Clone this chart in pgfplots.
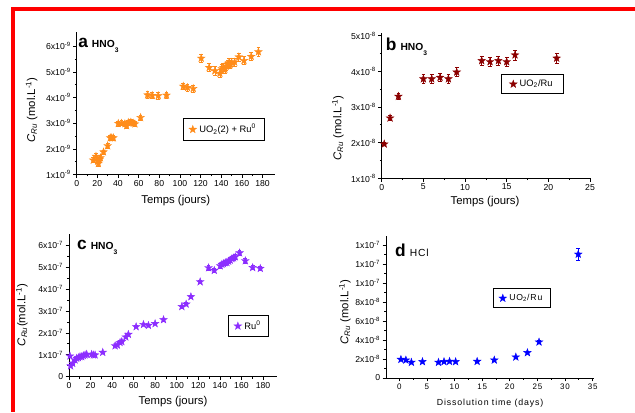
\documentclass[border=0pt]{standalone}
\usepackage{fontspec}
\setmainfont{Liberation Sans}
\usepackage{pgfplots}
\pgfplotsset{compat=1.18}
\definecolor{corange}{RGB}{255,140,26}
\definecolor{cmaroon}{RGB}{139,0,0}
\definecolor{cviolet}{RGB}{140,45,255}
\definecolor{cblue}{RGB}{0,0,255}
\pgfdeclareplotmark{fstar}{%
  \pgfpathmoveto{\pgfpointpolar{90}{\pgfplotmarksize}}%
  \pgfpathlineto{\pgfpointpolar{126}{0.4\pgfplotmarksize}}%
  \pgfpathlineto{\pgfpointpolar{162}{\pgfplotmarksize}}%
  \pgfpathlineto{\pgfpointpolar{198}{0.4\pgfplotmarksize}}%
  \pgfpathlineto{\pgfpointpolar{234}{\pgfplotmarksize}}%
  \pgfpathlineto{\pgfpointpolar{270}{0.4\pgfplotmarksize}}%
  \pgfpathlineto{\pgfpointpolar{306}{\pgfplotmarksize}}%
  \pgfpathlineto{\pgfpointpolar{342}{0.4\pgfplotmarksize}}%
  \pgfpathlineto{\pgfpointpolar{18}{\pgfplotmarksize}}%
  \pgfpathlineto{\pgfpointpolar{54}{0.4\pgfplotmarksize}}%
  \pgfpathclose
  \pgfusepathqfillstroke}
\newcommand{\tl}[2]{#1x10\textsuperscript{-#2}}
\newcommand{\ttl}[2]{{\bfseries\fontsize{13}{13}\selectfont #1}\hspace{3pt}{\bfseries\fontsize{7.7}{8}\selectfont #2}}
\pgfplotsset{panel/.style={
  scale only axis, axis x line*=bottom, axis y line*=left, tick align=outside,
  axis line style={line width=0.6pt, black, -},
  major tick length=2.6pt, minor tick length=1.4pt,
  every tick/.style={black, line width=0.5pt},
  minor x tick num=1, minor y tick num=1,
  tick label style={font=\fontsize{6.5}{7}\selectfont},
  xticklabel style={inner sep=1.5pt},
  yticklabel style={inner sep=1.5pt},
  /pgf/number format/assume math mode=true,
  label style={font=\fontsize{8.5}{9}\selectfont},
  clip=false,
  legend cell align=left,
  legend style={draw=black, line width=0.6pt, fill=white, font=\fontsize{7}{8}\selectfont, inner xsep=4pt, inner ysep=2pt, anchor=north west},
  anchor=south west,
}}
\pgfplotsset{ser/.style={only marks, mark=fstar, mark size=3pt, color=#1, mark options={fill=#1, line width=0.3pt, line join=miter},
  error bars/y dir=both, error bars/y explicit,
  error bars/error bar style={line width=0.5pt, #1},
  error bars/error mark options={rotate=90, mark size=1.4pt, line width=0.5pt, #1}}}

\pgfplotstableread{
x y e
16.1 1.56 0.10
18.7 1.71 0.10
20.3 1.52 0.10
21.0 1.43 0.10
22.0 1.58 0.10
23.0 1.65 0.10
26.0 1.88 0.08
30.0 2.12 0.08
32.5 2.43 0.08
34.0 2.43 0.08
35.5 2.43 0.08
40.3 2.99 0.10
43.5 3.00 0.10
46.7 2.98 0.10
48.4 2.90 0.10
50.0 3.03 0.10
52.5 3.04 0.10
54.8 3.00 0.10
56.4 2.97 0.10
61.9 3.22 0.10
68.7 4.10 0.13
73.2 4.08 0.13
79.0 4.07 0.13
87.0 4.09 0.13
103.2 4.44 0.13
107.4 4.39 0.13
112.9 4.35 0.13
120.6 5.53 0.16
128.3 5.17 0.16
133.8 5.04 0.16
138.7 4.94 0.16
140.5 5.12 0.16
142.0 5.17 0.16
143.5 5.10 0.16
145.0 5.22 0.16
146.5 5.30 0.16
147.5 5.35 0.16
148.5 5.28 0.16
150.0 5.37 0.16
153.0 5.38 0.16
157.0 5.58 0.16
162.0 5.44 0.16
169.0 5.60 0.16
176.0 5.78 0.16
}\dataA
\pgfplotstableread{
x y e
0.3 1.96 0.04
1.0 2.69 0.07
2.0 3.30 0.09
5.0 3.79 0.12
6.0 3.79 0.12
7.0 3.83 0.12
8.0 3.79 0.12
9.0 3.98 0.13
12.0 4.30 0.13
13.0 4.27 0.13
14.0 4.30 0.13
15.0 4.27 0.13
16.0 4.46 0.14
21.0 4.37 0.14
}\dataB
\pgfplotstableread{
x y e
0.9 0.94 0.03
1.5 0.49 0.03
3.4 0.61 0.03
5.6 0.76 0.03
7.1 0.84 0.03
8.7 0.87 0.03
10.2 0.91 0.03
11.8 0.91 0.03
13.3 0.96 0.03
14.9 0.99 0.03
16.4 1.02 0.03
21.0 1.02 0.03
22.6 0.99 0.03
24.2 0.99 0.03
31.3 1.11 0.03
42.8 1.41 0.04
44.9 1.44 0.04
47.4 1.56 0.04
49.0 1.60 0.04
52.7 1.81 0.05
55.1 1.93 0.05
62.3 2.28 0.05
69.1 2.38 0.05
73.7 2.34 0.05
79.9 2.42 0.05
87.7 2.60 0.06
104.7 3.20 0.07
108.7 3.31 0.07
113.1 3.65 0.08
121.7 4.33 0.09
129.5 4.97 0.10
134.8 4.85 0.10
140.3 5.06 0.10
141.9 5.13 0.10
143.4 5.16 0.10
145.0 5.20 0.10
146.5 5.21 0.10
148.1 5.27 0.10
149.6 5.32 0.10
151.2 5.39 0.10
152.7 5.42 0.10
154.3 5.47 0.10
158.3 5.65 0.10
163.6 5.29 0.10
170.4 4.98 0.10
177.5 4.94 0.10
}\dataC
\pgfplotstableread{
x y e
0.3 1.96 0.08
1.2 1.89 0.08
2.2 1.65 0.08
4.2 1.72 0.08
7.1 1.65 0.08
8.1 1.72 0.08
9.1 1.75 0.08
10.2 1.72 0.08
14.1 1.75 0.08
17.2 1.89 0.08
21.1 2.21 0.09
23.2 2.67 0.10
25.3 3.79 0.18
32.4 13.05 0.67
}\dataD

\begin{document}
\begin{tikzpicture}
\path[use as bounding box] (0,0) rectangle (476.25pt,309pt);
\fill[red] (8.25pt,301pt) rectangle (476.25pt,304pt);
\fill[red] (8.25pt,0pt) rectangle (11.25pt,304pt);

% panel a
\begin{axis}[panel, at={(57.5pt,178.1pt)}, width=148.7pt, height=106.65pt,
  xmin=0, xmax=192, ymin=1, ymax=6.54,
  xtick={0,20,...,180}, ytick={1,2,3,4,5,6},
  yticklabels={\tl{1}{9},\tl{2}{9},\tl{3}{9},\tl{4}{9},\tl{5}{9},\tl{6}{9}},
  xlabel={Temps (jours)},
  ylabel={\textit{C}\textsubscript{\textit{Ru}} (mol.L\textsuperscript{-1})},
  xlabel style={at={(axis description cs:0.5,-0.186)}, anchor=center},
  ylabel style={at={(axis description cs:-0.227,0.454)}, anchor=center},
  legend style={at={(axis description cs:0.5376,0.395)}},
]
\addplot[ser=corange] table[x=x,y=y,y error=e] {\dataA};
\addlegendentry{UO\textsubscript{2}(2) + Ru\textsuperscript{0}}
\node[anchor=base west, inner sep=0pt] at (axis description cs:0.007,0.89) {\ttl{a}{HNO\raisebox{-3.5pt}{\fontsize{5}{5}\selectfont 3}}};
\end{axis}

% panel b
\begin{axis}[panel, at={(286.3pt,175.3pt)}, width=156.2pt, height=108.75pt,
  xmin=0, xmax=25, ymin=1, ymax=5.07,
  xtick={0,5,...,25}, ytick={1,2,3,4,5},
  yticklabels={\tl{1}{8},\tl{2}{8},\tl{3}{8},\tl{4}{8},\tl{5}{8}},
  xlabel={Temps (jours)},
  ylabel={\textit{C}\textsubscript{\textit{Ru}} (mol.L\textsuperscript{-1})},
  xlabel style={at={(axis description cs:0.496,-0.163)}, anchor=center},
  ylabel style={at={(axis description cs:-0.21,0.347)}, anchor=center},
  legend style={at={(axis description cs:0.573,0.719)}, inner xsep=6pt},
]
\addplot[ser=cmaroon] table[x=x,y=y,y error=e] {\dataB};
\addlegendentry{UO\textsubscript{2}/Ru}
\node[anchor=base west, inner sep=0pt] at (axis description cs:0.019,0.878) {\ttl{b}{HNO\raisebox{-3.5pt}{\fontsize{5}{5}\selectfont 3}}};
\end{axis}

% panel c
\begin{axis}[panel, at={(51.75pt,26.5pt)}, width=156pt, height=106.8pt,
  xmin=0, xmax=193, ymin=0, ymax=6.5,
  xtick={0,20,...,180}, ytick={0,1,2,3,4,5,6},
  yticklabels={0,\tl{1}{7},\tl{2}{7},\tl{3}{7},\tl{4}{7},\tl{5}{7},\tl{6}{7}},
  xlabel={Temps (jours)},
  ylabel={\textit{C}\textsubscript{\textit{Ru}}(mol.L\textsuperscript{-1})},
  xlabel style={at={(axis description cs:0.5,-0.178)}, anchor=center},
  ylabel style={at={(axis description cs:-0.226,0.433)}, anchor=center},
  legend style={at={(axis description cs:0.766,0.433)}},
]
\addplot[ser=cviolet] table[x=x,y=y,y error=e] {\dataC};
\addlegendentry{Ru\textsuperscript{0}}
\node[anchor=base west, inner sep=0pt] at (axis description cs:0.038,0.89) {\ttl{c}{HNO\raisebox{-3.5pt}{\fontsize{5}{5}\selectfont 3}}};
\end{axis}

% panel d
\begin{axis}[panel, at={(289.5pt,25.5pt)}, width=156.2pt, height=106.7pt,
  xmin=-2.4, xmax=35.3, ymin=0, ymax=15,
  xtick={0,5,...,35}, ytick={0,2,...,14},
  yticklabels={0,\tl{2}{8},\tl{4}{8},\tl{6}{8},\tl{8}{8},\tl{1}{7},\tl{1}{7},\tl{1}{7}},
  xticklabel style={font=\fontsize{6}{7}\selectfont\addfontfeatures{LetterSpace=10}},
  xlabel={Dissolution time (days)},
  xlabel style={at={(axis description cs:0.5,-0.176)}, anchor=center, font=\fontsize{6.6}{8}\selectfont\addfontfeatures{LetterSpace=10}},
  ylabel={\textit{C}\textsubscript{\textit{Ru}} (mol.L\textsuperscript{-1})},
  ylabel style={at={(axis description cs:-0.197,0.464)}, anchor=center},
  legend style={at={(axis description cs:0.515,0.63)}, font=\fontsize{6.5}{8}\selectfont\addfontfeatures{LetterSpace=10}},
]
\addplot[ser=cblue] table[x=x,y=y,y error=e] {\dataD};
\addlegendentry{UO\textsubscript{2}/Ru}
\node[anchor=base west, inner sep=0pt] at (axis description cs:0.043,0.857) {{\bfseries\fontsize{13}{13}\selectfont d}\hspace{3pt}{\fontsize{7.7}{8}\selectfont\addfontfeatures{LetterSpace=8}HCl}};
\end{axis}
\end{tikzpicture}
\end{document}
